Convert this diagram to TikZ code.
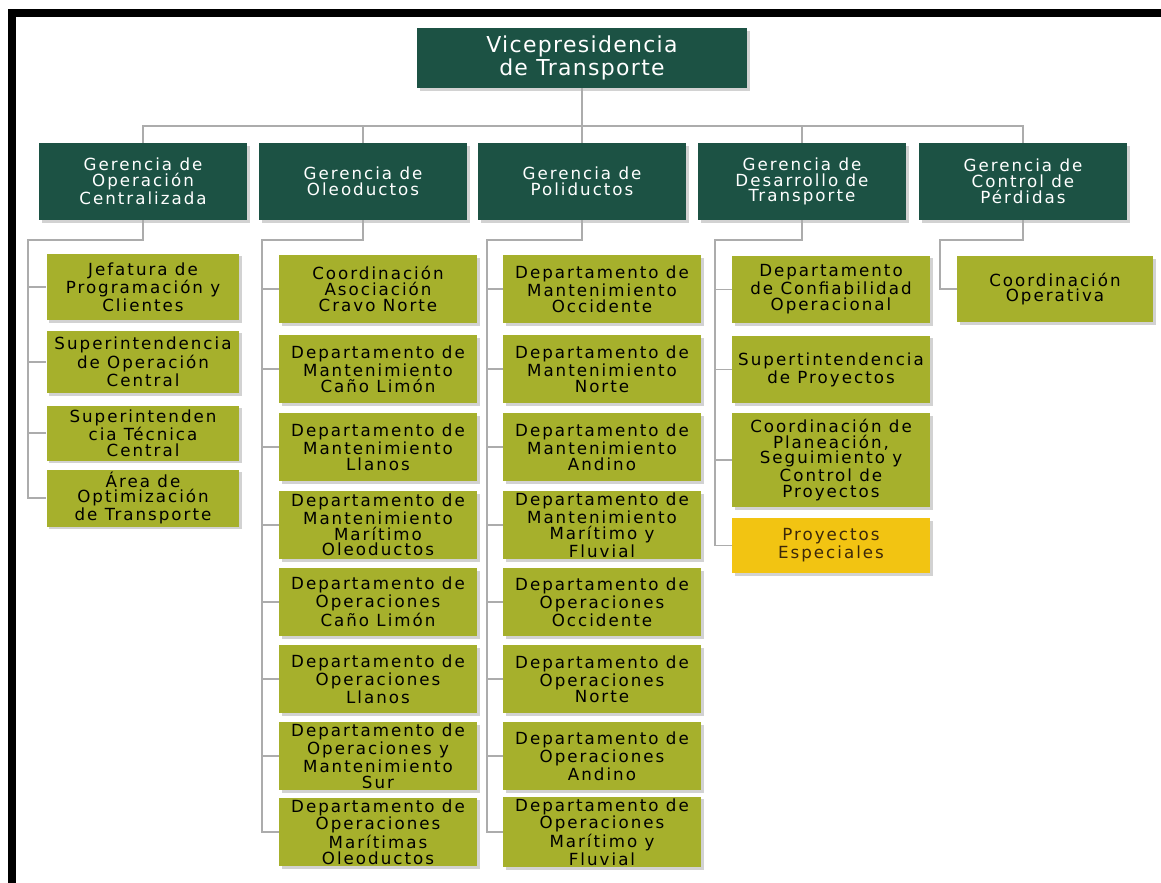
\documentclass[tikz,border=0pt]{standalone}
\usepackage{fontspec}
\usepackage{xcolor}
\usepackage{tikz}
\usetikzlibrary{calc, shadows, positioning}

\newfontfamily\orgfont[LetterSpace=12]{DejaVu Sans}
\newfontfamily\vpfont[LetterSpace=6]{DejaVu Sans}

\definecolor{vpgreen}{RGB}{28,82,68}
\definecolor{dptolive}{RGB}{166,176,44}
\definecolor{dptyellow}{RGB}{242,196,18}
\definecolor{linegray}{RGB}{172,172,172}

\tikzset{
    sombra/.style={drop shadow={shadow xshift=1.6pt, shadow yshift=-1.6pt, fill=black!35}},
    vpbox/.style={sombra, fill=vpgreen, text=white, align=center, inner sep=1pt,
        minimum width=6.6cm, minimum height=1.2cm, font=\vpfont\fontsize{12.5}{11.5}\selectfont},
    gerbox/.style={sombra, fill=vpgreen, text=white, align=center, inner sep=1pt,
        minimum width=4.16cm, minimum height=1.54cm, font=\orgfont\fontsize{9.5}{9}\selectfont},
    dptbox/.style={sombra, fill=dptolive, text=black, align=center, inner sep=1pt,
        minimum width=3.96cm, minimum height=1.36cm, font=\orgfont\fontsize{9.5}{9}\selectfont},
    noi/.style={draw=linegray, line width=0.7pt},
}

\begin{document}
\begin{tikzpicture}[x=0.02cm, y=-0.02cm]
    \useasboundingbox (0,0) rectangle (1161,883);
    % Khung viền
    \draw[line width=0.16cm] (12,883) -- (12,12.5) -- (1161,12.5);

    % Cấp 1
    \node[vpbox] (vp) at (582,58) {Vicepresidencia\\de Transporte};

    % Cấp 2
    \node[gerbox] (g1) at (143,181.5) {Gerencia de\\Operación\\Centralizada};
    \node[gerbox] (g2) at (363,181.5) {Gerencia de\\Oleoductos};
    \node[gerbox] (g3) at (582,181.5) {Gerencia de\\Poliductos};
    \node[gerbox] (g4) at (802,181.5) {Gerencia de\\Desarrollo de\\Transporte};
    \node[gerbox] (g5) at (1023,181.5) {Gerencia de\\Control de\\Pérdidas};

    % Cột 1
    \node[dptbox, minimum width=3.86cm, minimum height=1.34cm] (d11) at (143,287) {Jefatura de\\Programación y\\Clientes};
    \node[dptbox, minimum width=3.86cm, minimum height=1.26cm] (d12) at (143,362) {Superintendencia\\de Operación\\Central};
    \node[dptbox, minimum width=3.86cm, minimum height=1.10cm] (d13) at (143,433) {Superintenden\\cia Técnica\\Central};
    \node[dptbox, minimum width=3.86cm, minimum height=1.14cm] (d14) at (143,498) {Área de\\Optimización\\de Transporte};

    % Cột 2
    \node[dptbox] (d21) at (378,289) {Coordinación\\Asociación\\Cravo Norte};
    \node[dptbox] (d22) at (378,369) {Departamento de\\Mantenimiento\\Caño Limón};
    \node[dptbox] (d23) at (378,447) {Departamento de\\Mantenimiento\\Llanos};
    \node[dptbox] (d24) at (378,525) {Departamento de\\Mantenimiento\\Marítimo\\Oleoductos};
    \node[dptbox] (d25) at (378,602) {Departamento de\\Operaciones\\Caño Limón};
    \node[dptbox] (d26) at (378,679) {Departamento de\\Operaciones\\Llanos};
    \node[dptbox] (d27) at (378,756) {Departamento de\\Operaciones y\\Mantenimiento\\Sur};
    \node[dptbox] (d28) at (378,832) {Departamento de\\Operaciones\\Marítimas\\Oleoductos};

    % Cột 3
    \node[dptbox] (d31) at (602,289) {Departamento de\\Mantenimiento\\Occidente};
    \node[dptbox] (d32) at (602,369) {Departamento de\\Mantenimiento\\Norte};
    \node[dptbox] (d33) at (602,447) {Departamento de\\Mantenimiento\\Andino};
    \node[dptbox] (d34) at (602,525) {Departamento de\\Mantenimiento\\Marítimo y\\Fluvial};
    \node[dptbox] (d35) at (602,602) {Departamento de\\Operaciones\\Occidente};
    \node[dptbox] (d36) at (602,679) {Departamento de\\Operaciones\\Norte};
    \node[dptbox] (d37) at (602,756) {Departamento de\\Operaciones\\Andino};
    \node[dptbox] (d38) at (602,832) {Departamento de\\Operaciones\\Marítimo y\\Fluvial};

    % Cột 4
    \node[dptbox] (d41) at (831,289.5) {Departamento\\de Confiabilidad\\Operacional};
    \node[dptbox] (d42) at (831,369.5) {Supertintendencia\\de Proyectos};
    \node[dptbox, minimum height=1.88cm] (d43) at (831,460) {Coordinación de\\Planeación,\\Seguimiento y\\Control de\\Proyectos};
    \node[dptbox, fill=dptyellow, text={rgb,255:red,60;green,40;blue,10}, minimum height=1.1cm] (d44) at (831,545.5) {Proyectos\\Especiales};

    % Cột 5
    \node[dptbox, minimum width=3.92cm, minimum height=1.32cm] (d51) at (1055,289) {Coordinación\\Operativa};

    % Đường nối cấp 1 - cấp 2
    \coordinate (bus) at (0,126);
    \draw[noi] (vp.south) -- (g3.north);
    \draw[noi] (g1.north) |- (bus -| g5.north) -- (g5.north);
    \draw[noi] (g2.north) -- (g2.north |- bus);
    \draw[noi] (g4.north) -- (g4.north |- bus);

    % Đường nối cấp 2 - cấp 3
    \coordinate (r1) at (28,240);
    \coordinate (r2) at (262,240);
    \coordinate (r3) at (487,240);
    \coordinate (r4) at (715,240);
    \coordinate (r5) at (940,240);
    \draw[noi] (g1.south) |- (r1) -- (r1 |- d14.west) -- (d14.west);
    \draw[noi] (g2.south) |- (r2) -- (r2 |- d28.west) -- (d28.west);
    \draw[noi] (g3.south) |- (r3) -- (r3 |- d38.west) -- (d38.west);
    \draw[noi] (g4.south) |- (r4) -- (r4 |- d44.west) -- (d44.west);
    \draw[noi] (g5.south) |- (r5) -- (r5 |- d51.west) -- (d51.west);
    \foreach \n in {d11,d12,d13}
        \draw[noi] (\n.west) -- (\n.west -| r1);
    \foreach \n in {d21,d22,d23,d24,d25,d26,d27}
        \draw[noi] (\n.west) -- (\n.west -| r2);
    \foreach \n in {d31,d32,d33,d34,d35,d36,d37}
        \draw[noi] (\n.west) -- (\n.west -| r3);
    \foreach \n in {d41,d42,d43}
        \draw[noi] (\n.west) -- (\n.west -| r4);
\end{tikzpicture}
\end{document}
